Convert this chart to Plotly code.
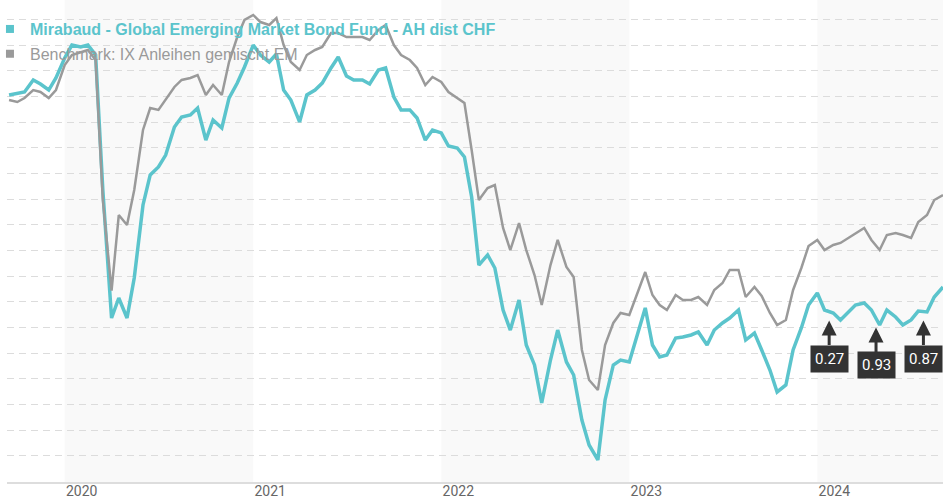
import numpy as np
import pandas as pd
import plotly.graph_objects as go

# ---- data (cumulative performance in %, semi-monthly observations) ----
dates = pd.date_range("2019-09-15", "2024-09-01", freq="SMS")

fund = [
    0.15, 0.34, 0.44, 1.61, 1.22, 0.63, 1.80, 3.75, 5.01, 4.82,
    5.01, 4.04, -9.10, -21.57, -19.62, -21.57, -17.67, -10.56, -7.64, -6.86,
    -5.70, -2.97, -2.00, -1.80, -1.12, -4.24, -2.29, -3.07, -0.15, 1.31,
    2.87, 5.01, 4.04, 3.36, 4.14, 0.63, -0.34, -2.48, 0.15, 0.63,
    1.31, 2.78, 3.85, 2.00, 1.61, 1.61, 1.22, 2.58, 2.78, -0.05,
    -1.31, -1.31, -2.09, -4.24, -3.26, -3.55, -4.82, -5.01, -5.89, -9.79,
    -16.41, -15.43, -16.70, -20.79, -22.74, -19.81, -24.20, -26.14, -29.84, -25.66,
    -22.74, -25.85, -27.12, -31.50, -33.93, -35.39, -29.55, -26.14, -25.66, -25.85,
    -23.42, -20.59, -24.20, -25.36, -25.17, -23.52, -23.42, -23.22, -22.93, -24.20,
    -22.74, -22.05, -21.57, -20.79, -23.71, -23.03, -24.68, -26.63, -28.77, -28.09,
    -24.68, -22.54, -20.30, -19.13, -20.79, -21.08, -21.76, -20.98, -20.30, -20.11,
    -20.79, -22.25, -20.79, -21.47, -22.25, -21.76, -20.89, -20.98, -19.52, -18.55,
]

bench = [
    -0.34, -0.54, -0.15, 0.63, 0.44, -0.15, 0.63, 3.07, 4.04, 4.33,
    4.53, 3.55, -10.08, -18.90, -11.54, -12.51, -9.10, -3.26, -1.12, -1.31,
    -0.34, 0.93, 1.61, 1.80, 2.09, 0.15, 1.12, 0.15, 3.36, 5.79,
    7.45, 7.94, 7.25, 6.96, 7.64, 5.01, 3.36, 2.58, 4.04, 4.53,
    4.82, 6.18, 6.18, 5.79, 5.79, 5.79, 5.50, 6.48, 6.96, 5.01,
    4.04, 3.55, 2.78, 1.12, 1.90, 1.41, 0.44, -0.15, -0.63, -5.21,
    -10.08, -8.91, -8.62, -12.80, -14.95, -12.32, -14.95, -17.38, -20.30, -16.41,
    -13.97, -16.60, -17.58, -24.68, -27.60, -28.58, -24.20, -22.05, -21.08, -21.28,
    -19.33, -17.09, -19.33, -20.30, -20.79, -19.33, -19.81, -19.81, -19.52, -20.30,
    -18.84, -18.16, -16.89, -16.89, -19.52, -18.55, -19.43, -21.08, -22.25, -21.76,
    -18.84, -16.70, -14.56, -13.97, -14.95, -14.46, -14.26, -13.78, -13.29, -12.80,
    -13.97, -14.95, -13.49, -13.29, -13.49, -13.78, -12.22, -11.54, -10.08, -9.59,
]

fund_name = "Mirabaud - Global Emerging Market Bond Fund - AH dist CHF"
bench_name = "Benchmark: IX Anleihen gemischt EM"

div_dates = ["2024-01-24", "2024-04-24", "2024-07-25"]
div_amounts = [0.27, 0.93, 0.87]

years = [2020, 2021, 2022, 2023, 2024]
shaded_years = [2020, 2022, 2024]

# ---- styles ----
TEAL = "#5bc4cc"
GREY = "#9a9a9a"

fig = go.Figure()

fig.add_trace(go.Scatter(x=dates, y=fund, mode="lines", name=fund_name,
                         line=dict(color=TEAL, width=3.5), showlegend=False,
                         hoverinfo="skip"))
fig.add_trace(go.Scatter(x=dates, y=bench, mode="lines", name=bench_name,
                         line=dict(color=GREY, width=2.5), showlegend=False,
                         hoverinfo="skip"))

# legend entries with square symbols
fig.add_trace(go.Scatter(x=[None], y=[None], mode="markers",
                         marker=dict(symbol="square", size=8, color=TEAL),
                         name=f"<b><span style='color:{TEAL}'>{fund_name}</span></b>",
                         legendgroup="a"))
fig.add_trace(go.Scatter(x=[None], y=[None], mode="markers",
                         marker=dict(symbol="square", size=8, color=GREY),
                         name=f"<span style='color:{GREY}'>{bench_name}</span>",
                         legendgroup="b"))

# alternating year shading
for yr in shaded_years:
    fig.add_shape(type="rect", xref="x", yref="paper",
                  x0=f"{yr}-01-01", x1=f"{yr + 1}-01-01", y0=0, y1=1,
                  fillcolor="rgba(246,246,246,0.69)", line=dict(width=0),
                  layer="between")

# dividend markers
dd = pd.to_datetime(div_dates)
div_y = np.interp(dd.astype("int64"), dates.astype("int64"), fund)
for d, yv, amt in zip(dd, div_y, div_amounts):
    fig.add_annotation(x=d, y=yv, text=f"{amt:.2f}", showarrow=True,
                       arrowhead=2, arrowsize=1.0, arrowwidth=3,
                       arrowcolor="#333333", ax=0, ay=47, standoff=9,
                       bgcolor="#333333", borderpad=4,
                       font=dict(family="Roboto", size=15, color="white"))

fig.update_layout(
    width=943, height=500,
    margin=dict(l=7, r=0, t=0, b=18, autoexpand=False),
    paper_bgcolor="white", plot_bgcolor="white",
    showlegend=True,
    legend=dict(x=-0.0182, y=0.975, xanchor="left", yanchor="top",
                bgcolor="rgba(0,0,0,0)", tracegroupgap=1,
                traceorder="grouped",
                font=dict(family="Liberation Sans", size=16)),
    xaxis=dict(range=["2019-09-11", "2024-09-01"],
               tickvals=[f"{y}-01-01" for y in years],
               ticktext=[str(y) for y in years],
               ticks="", ticklabelshift=17, ticklabelstandoff=-5,
               tickfont=dict(family="Roboto", size=14, color="#666666"),
               showgrid=False, zeroline=False,
               showline=True, linecolor="#dddddd", linewidth=2),
    yaxis=dict(range=[-37.537, 9.396], tick0=0, dtick=2.5,
               showticklabels=False, ticks="",
               showgrid=True, gridcolor="#dcdcdc", gridwidth=1,
               griddash="7px,5px", zeroline=False, showline=False),
)

fig.write_html("out.html", config={"displayModeBar": False},
               post_script="document.body.style.margin='0px';")
